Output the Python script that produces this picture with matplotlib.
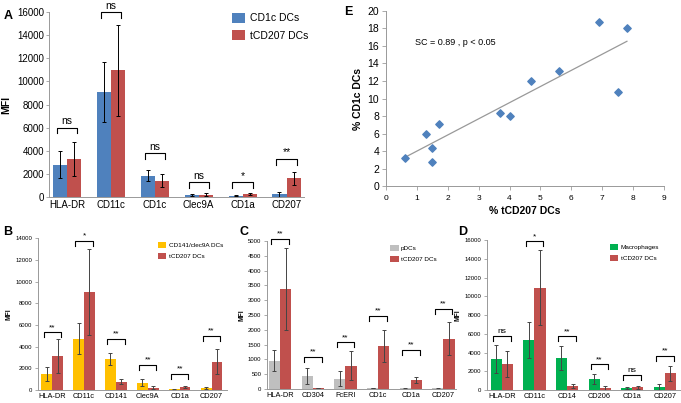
import matplotlib.pyplot as plt
import numpy as np

plt.rcParams['font.family'] = ['Liberation Sans', 'DejaVu Sans']

BLUE = "#4F81BD"
RED = "#C0504D"
YELLOW = "#FFC000"
GRAY = "#BFBFBF"
GREEN = "#00B050"

# panel A
a_cats = ["HLA-DR", "CD11c", "CD1c", "Clec9A", "CD1a", "CD207"]
a_cd1c = [2800, 9100, 1850, 180, 100, 230]
a_cd1c_err = [1150, 2600, 480, 100, 50, 200]
a_tcd207 = [3300, 10950, 1420, 220, 270, 1620]
a_tcd207_err = [1450, 3950, 550, 100, 100, 580]
a_sig = ["ns", "ns", "ns", "ns", "*", "**"]
a_brk = [6000, 16000, 3800, 1300, 1300, 3300]

# panel B
b_cats = ["HLA-DR", "CD11c", "CD141", "Clec9A", "CD1a", "CD207"]
b_cd141 = [1450, 4750, 2900, 700, 80, 180]
b_cd141_err = [650, 1400, 550, 300, 40, 100]
b_tcd207 = [3150, 9050, 780, 230, 280, 2600]
b_tcd207_err = [1550, 3950, 230, 120, 80, 1150]
b_sig = ["**", "*", "**", "**", "**", "**"]
b_brk = [5330, 13770, 4710, 2310, 1480, 5020]

# panel C
c_cats = ["HLA-DR", "CD304", "FcERI", "CD1c", "CD1a", "CD207"]
c_pdc = [950, 450, 350, 30, 15, 15]
c_pdc_err = [350, 270, 250, 15, 10, 10]
c_tcd207 = [3380, 30, 790, 1450, 310, 1700]
c_tcd207_err = [1390, 15, 480, 550, 105, 560]
c_sig = ["**"] * 6
c_brk = [5080, 1080, 1580, 2470, 1320, 2700]

# panel D
d_cats = ["HLA-DR", "CD11c", "CD14", "CD206", "CD1a", "CD207"]
d_mac = [3350, 5350, 3450, 1200, 200, 350]
d_mac_err = [1500, 1950, 1300, 550, 80, 300]
d_tcd207 = [2800, 10950, 450, 200, 300, 1800]
d_tcd207_err = [1370, 3950, 250, 200, 150, 800]
d_sig = ["ns", "*", "**", "**", "ns", "**"]
d_brk = [5800, 15860, 5760, 2770, 1600, 3630]

# panel E
e_tcd207 = [0.6, 1.3, 1.5, 1.5, 1.7, 3.7, 4.0, 4.7, 5.6, 6.9, 7.5, 7.8]
e_cd1c = [3.2, 5.9, 4.3, 2.8, 7.1, 8.3, 8.0, 12.0, 13.1, 18.7, 10.7, 18.1]


def bar_panel(ax, cats, v1, e1, v2, e2, c1, names, sig, brk, ymax, ystep,
              leg, bw, fs_tick, fs_cat, fs_leg, fs_sig, leg_h, hw, ecol, xlim):
    x = np.arange(len(cats))
    ax.bar(x - bw / 2, v1, bw, color=c1, label=names[0])
    ax.bar(x + bw / 2, v2, bw, color=RED, label=names[1])
    ax.errorbar(x - bw / 2, v1, yerr=e1, fmt="none", ecolor=ecol, elinewidth=0.7, capsize=1.5, capthick=0.7)
    ax.errorbar(x + bw / 2, v2, yerr=e2, fmt="none", ecolor=ecol, elinewidth=0.7, capsize=1.5, capthick=0.7)
    for xi, s, y in zip(x, sig, brk):
        ax.plot([xi - hw, xi - hw, xi + hw, xi + hw], [y - leg_h, y, y, y - leg_h],
                color="black", lw=0.8, clip_on=False)
        ax.text(xi, y + leg_h * 0.25, s, ha="center", va="bottom", fontsize=fs_sig, clip_on=False)
    ax.set_xticks(x)
    ax.set_xticklabels(cats, fontsize=fs_cat)
    ax.set_ylim(0, ymax)
    ax.set_yticks(np.arange(0, ymax + 1, ystep))
    ax.tick_params(axis="y", labelsize=fs_tick, length=2, width=0.5, color="#888888", pad=2)
    ax.tick_params(axis="x", length=0, pad=2)
    ax.set_xlim(*xlim)
    for s in ["top", "right"]:
        ax.spines[s].set_visible(False)
    for s in ["left", "bottom"]:
        ax.spines[s].set_color("#999999")
        ax.spines[s].set_linewidth(0.7)
    ax.legend(loc="upper left", bbox_to_anchor=leg, frameon=False, fontsize=fs_leg,
              handlelength=1.3, handleheight=1.1, labelspacing=0.7, handletextpad=0.4,
              borderaxespad=0)


fig = plt.figure(figsize=(6.81, 4.03), dpi=100)

axA = fig.add_axes([0.0725, 0.511, 0.374, 0.459])
bar_panel(axA, a_cats, a_cd1c, a_cd1c_err, a_tcd207, a_tcd207_err, BLUE,
          ["CD1c DCs", "tCD207 DCs"], a_sig, a_brk, 16000, 2000, (0.70, 1.02),
          0.32, 7, 7, 7.5, 7.5, 500, 0.23, "black", (-0.4, 5.4))
axA.set_ylabel("MFI", fontsize=7.5, fontweight="bold", labelpad=4)

axB = fig.add_axes([0.056, 0.032, 0.278, 0.377])
bar_panel(axB, b_cats, b_cd141, b_cd141_err, b_tcd207, b_tcd207_err, YELLOW,
          ["CD141/clec9A DCs", "tCD207 DCs"], b_sig, b_brk, 14000, 2000, (0.62, 0.99),
          0.34, 4.3, 5.3, 4.6, 6, 450, 0.27, "#444444", (-0.44, 5.5))
axB.set_ylabel("MFI", fontsize=4.8, fontweight="bold", labelpad=2)

axC = fig.add_axes([0.392, 0.035, 0.277, 0.367])
bar_panel(axC, c_cats, c_pdc, c_pdc_err, c_tcd207, c_tcd207_err, GRAY,
          ["pDCs", "tCD207 DCs"], c_sig, c_brk, 5000, 500, (0.64, 0.99),
          0.34, 4.3, 5.3, 4.6, 6, 170, 0.27, "#444444", (-0.4, 5.37))
axC.set_ylabel("MFI", fontsize=4.8, fontweight="bold", labelpad=2)

axD = fig.add_axes([0.715, 0.032, 0.285, 0.372])
bar_panel(axD, d_cats, d_mac, d_mac_err, d_tcd207, d_tcd207_err, GREEN,
          ["Macrophages", "tCD207 DCs"], d_sig, d_brk, 16000, 2000, (0.62, 0.99),
          0.34, 4.3, 5.3, 4.6, 6, 530, 0.27, "#444444", (-0.46, 5.5))
axD.set_ylabel("MFI", fontsize=4.8, fontweight="bold", labelpad=2)

# panel E scatter
axE = fig.add_axes([0.567, 0.538, 0.408, 0.435])
axE.scatter(e_tcd207, e_cd1c, marker="D", s=14, color=BLUE, zorder=3)
k, b = np.polyfit(e_tcd207, e_cd1c, 1)
xl = np.array([min(e_tcd207), max(e_tcd207)])
axE.plot(xl, k * xl + b, color="#999999", lw=0.9)
axE.text(0.95, 16.4, "SC = 0.89 , p < 0.05", fontsize=6.5, va="center")
axE.set_xlim(0, 9)
axE.set_ylim(0, 20)
axE.set_xticks(range(0, 10))
axE.set_yticks(range(0, 21, 2))
axE.tick_params(axis="y", labelsize=7.5, length=3, width=0.5, color="#888888", pad=2)
axE.tick_params(axis="x", labelsize=6, length=3, width=0.5, color="#888888", pad=3)
axE.set_xlabel("% tCD207 DCs", fontsize=7.5, fontweight="bold", labelpad=3)
axE.set_ylabel("% CD1c DCs", fontsize=7.5, fontweight="bold", labelpad=3)
for s in ["top", "right"]:
    axE.spines[s].set_visible(False)
for s in ["left", "bottom"]:
    axE.spines[s].set_color("#999999")
    axE.spines[s].set_linewidth(0.7)

# panel letters
fig.text(0.005, 0.975, "A", fontsize=9, fontweight="bold", va="top")
fig.text(0.505, 0.985, "E", fontsize=9, fontweight="bold", va="top")
fig.text(0.004, 0.44, "B", fontsize=9, fontweight="bold", va="top")
fig.text(0.352, 0.44, "C", fontsize=9, fontweight="bold", va="top")
fig.text(0.672, 0.44, "D", fontsize=9, fontweight="bold", va="top")

fig.savefig("out.png", dpi=100)
